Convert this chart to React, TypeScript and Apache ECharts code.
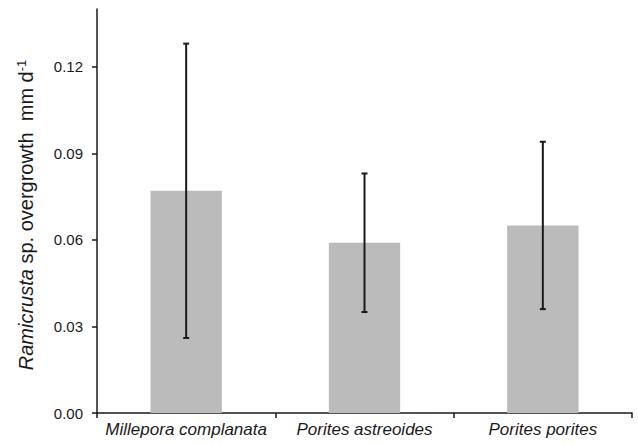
import React, { useEffect, useRef } from "react";
import * as echarts from "echarts";

const categories = ["Millepora complanata", "Porites astreoides", "Porites porites"];
const means = [0.077, 0.059, 0.065];
const lows = [0.026, 0.035, 0.036];
const highs = [0.128, 0.083, 0.094];
const yTicks = [0, 0.03, 0.06, 0.09, 0.12];

export default function App() {
  const ref = useRef<HTMLDivElement>(null);
  useEffect(() => {
    document.body.style.margin = "0";
    if (!ref.current) return;
    const chart = echarts.init(ref.current, null, { renderer: "svg" });
    const font = "'Liberation Sans', Arial, sans-serif";
    chart.setOption({
      animation: false,
      grid: { left: 97, right: 6, top: 9, bottom: 33, containLabel: false },
      xAxis: {
        type: "category",
        data: categories,
        axisLine: { lineStyle: { color: "#1a1a1a", width: 1.5 } },
        axisTick: { show: true, length: 5, alignWithLabel: false, lineStyle: { color: "#1a1a1a", width: 1.5 } },
        axisLabel: {
          color: "#1a1a1a",
          fontFamily: font,
          fontStyle: "italic",
          fontSize: 17,
          margin: 8,
          interval: 0,
        },
      },
      yAxis: {
        type: "value",
        min: 0,
        max: 0.14,
        splitLine: { show: false },
        axisLine: { show: true, lineStyle: { color: "#1a1a1a", width: 1.5 } },
        axisTick: { show: true, length: 5, customValues: yTicks, lineStyle: { color: "#1a1a1a", width: 1.5 } },
        axisLabel: {
          customValues: yTicks,
          color: "#1a1a1a",
          fontFamily: font,
          fontSize: 15,
          margin: 14,
          formatter: (v: number) => v.toFixed(2),
        },
        name: "{i|Ramicrusta} sp. overgrowth  mm d{sup|-1}",
        nameLocation: "middle",
        nameGap: 60,
        nameRotate: 90,
        nameTextStyle: {
          color: "#1a1a1a",
          fontFamily: font,
          fontSize: 20,
          padding: [0, 8, 0, 0],
          rich: {
            i: { fontStyle: "italic", fontFamily: font, fontSize: 20, color: "#1a1a1a" },
            sup: { fontFamily: font, fontSize: 13, color: "#1a1a1a", verticalAlign: "top", padding: [0, 0, 9, 0] },
          },
        },
      },
      series: [
        {
          type: "bar",
          data: means,
          barWidth: "40%",
          itemStyle: { color: "#bbbbbb" },
        },
        {
          type: "custom",
          data: categories.map((_, i) => [i, lows[i], highs[i]]),
          renderItem: (params: any, api: any) => {
            const x = api.value(0);
            const lo = api.coord([x, api.value(1)]);
            const hi = api.coord([x, api.value(2)]);
            const cap = 3;
            const style = { stroke: "#1a1a1a", lineWidth: 2 };
            return {
              type: "group",
              children: [
                { type: "line", shape: { x1: hi[0], y1: hi[1], x2: lo[0], y2: lo[1] }, style },
                { type: "line", shape: { x1: hi[0] - cap, y1: hi[1], x2: hi[0] + cap, y2: hi[1] }, style },
                { type: "line", shape: { x1: lo[0] - cap, y1: lo[1], x2: lo[0] + cap, y2: lo[1] }, style },
              ],
            };
          },
          z: 10,
        },
      ],
    });
    return () => chart.dispose();
  }, []);
  return <div ref={ref} style={{ width: 638, height: 446 }} />;
}
